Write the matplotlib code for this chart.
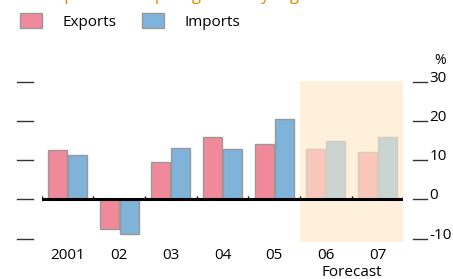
import matplotlib
matplotlib.use("Agg")
import matplotlib.pyplot as plt
from matplotlib.patches import Patch

# values (% change)
years = ["2001", "02", "03", "04", "05", "06", "07"]
exports = [12.6, -7.6, 9.5, 15.8, 14.0, 12.9, 12.0]
imports = [11.3, -8.8, 13.0, 12.9, 20.6, 15.0, 15.9]
n_actual = 5  # last two years are forecast
yticks = [-10, 0, 10, 20, 30]

col_exp = "#f08a9a"
col_imp = "#7fb3d9"
col_exp_f = "#f9c6bb"
col_imp_f = "#cad4d0"
shade = "#fef0db"

plt.rcParams['font.family'] = ['Open Sans', 'DejaVu Sans']

W, H = 453, 279
fig = plt.figure(figsize=(W / 100, H / 100), dpi=100)
ax = fig.add_axes([41.7 / W, 1 - 241.7 / H, (403.3 - 41.7) / W, (241.7 - 81) / H])
ax.set_xlim(-0.5, len(years) - 0.5)
ax.set_ylim(-10.75, 30.15)
ax.axis("off")

x = list(range(len(years)))
ax.axvspan(n_actual - 0.5, len(years) - 0.5, color=shade, lw=0, zorder=0)

w = 0.37
for i in x:
    fc_e = col_exp if i < n_actual else col_exp_f
    fc_i = col_imp if i < n_actual else col_imp_f
    ec = "#999999" if i < n_actual else "#d8cbbb"
    ax.bar(i - 0.195, exports[i], w, color=fc_e, edgecolor=ec, lw=1, zorder=2)
    ax.bar(i + 0.195, imports[i], w, color=fc_i, edgecolor=ec, lw=1, zorder=2)
    ax.text(i, -12.4, years[i], ha="center", va="top", fontsize=11, clip_on=False)

# zero line with little year separators
ax.axhline(0, color="black", lw=2.2, zorder=3)
ax.vlines([i - 0.5 for i in range(len(years) + 1)], 0, 0.9, color="black", lw=1, zorder=3)

# detached tick marks on both sides
ytr = ax.get_yaxis_transform()
for v in yticks:
    ax.plot([-24.7 / 361.6, -8.7 / 361.6], [v, v], transform=ytr, color="#333333",
            lw=1, clip_on=False)
    ax.plot([1 + 9.4 / 361.6, 1 + 23.7 / 361.6], [v, v], transform=ytr, color="#333333",
            lw=1, clip_on=False)
    ax.text(1 + 26 / 361.6, v + 0.9, str(v), transform=ytr, ha="left", va="center",
            fontsize=11)
ax.text(1 + 31 / 361.6, 35.3, "%", transform=ytr, ha="left", va="center", fontsize=10)

ax.text(5.5, -16.6, "Forecast", ha="center", va="top", fontsize=11, clip_on=False)

# legend
handles = [Patch(facecolor=col_exp, edgecolor="#999999", label="Exports"),
           Patch(facecolor=col_imp, edgecolor="#999999", label="Imports")]
fig.legend(handles=handles, loc="upper left", bbox_to_anchor=(20 / W, 1 - 13 / H), ncol=2,
           frameon=False, fontsize=11, borderpad=0, borderaxespad=0,
           handlelength=1.45, handleheight=1.1, handletextpad=1.3, columnspacing=1.7)

# title (mostly cut off at the top edge)
fig.text(0.02, 1.0 + 0.5 / H, "Real export and import growth by region", color="#e08a00",
         fontsize=12, ha="left", va="baseline")

fig.savefig("out.png", dpi=100)
